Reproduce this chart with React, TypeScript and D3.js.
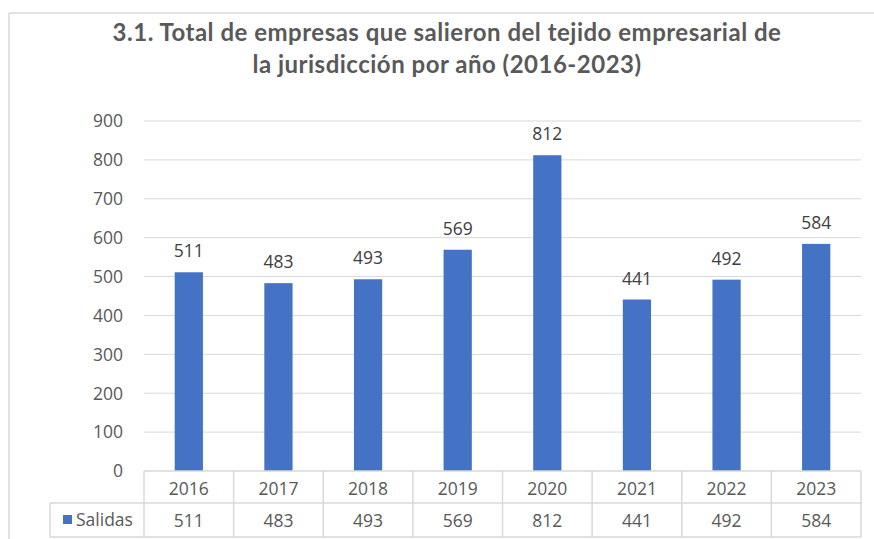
import React from 'react';
import * as d3 from 'd3';

const years = ['2016', '2017', '2018', '2019', '2020', '2021', '2022', '2023'];
const salidas = [511, 483, 493, 569, 812, 441, 492, 584];
const yTicks = [0, 100, 200, 300, 400, 500, 600, 700, 800, 900];
const titleLines = [
  '3.1. Total de empresas que salieron del tejido empresarial de',
  'la jurisdicción por año (2016-2023)',
];
const seriesName = 'Salidas';

const W = 874;
const H = 539;
const grid = '#d9d9d9';
const textCol = '#595959';
const barCol = '#4472c4';
const numFont = "'Open Sans', sans-serif";
const numSize = 17.5;

export default function App() {
  // plot area
  const left = 144;
  const right = 861;
  const x = d3.scaleBand<string>().domain(years).range([left, right]).paddingInner(0).paddingOuter(0);
  const y = d3.scaleLinear().domain([0, 900]).range([471, 121]);
  const barW = x.bandwidth() * 0.315;

  const rowTop = y(0);
  const rowMid = 503;
  const rowBot = 537;
  const legendLeft = 50;

  return (
    <svg width={W} height={H} style={{ position: 'absolute', left: 0, top: 0, background: '#fff' }}>
      {/* chart frame */}
      <line x1={9} x2={W} y1={13} y2={13} stroke={grid} strokeWidth={1.5} />
      <line x1={9} x2={9} y1={13} y2={H} stroke={grid} strokeWidth={1.5} />

      {/* title */}
      {titleLines.map((t, i) => (
        <text key={t} x={447} y={41 + i * 32} textAnchor="middle" fontFamily="Lato, sans-serif"
          fontWeight={700} fontSize={24} letterSpacing={0.5} fill={textCol}>{t}</text>
      ))}

      {/* gridlines + y tick labels */}
      {yTicks.map(t => (
        <g key={t}>
          {t > 0 && <line x1={left} x2={right} y1={y(t)} y2={y(t)} stroke={grid} strokeWidth={1} />}
          <text x={123} y={y(t)} dy="0.36em" textAnchor="end" fontFamily={numFont}
            fontSize={numSize} fill={textCol}>{t}</text>
        </g>
      ))}

      {/* bars */}
      {years.map((yr, i) => {
        const cx = (x(yr) || 0) + x.bandwidth() / 2;
        return (
          <g key={yr}>
            <rect x={cx - barW / 2} y={y(salidas[i])} width={barW} height={y(0) - y(salidas[i])} fill={barCol} />
            <text x={cx} y={y(salidas[i]) - 15} textAnchor="middle" fontFamily={numFont}
              fontSize={numSize} fill="#404040">{salidas[i]}</text>
          </g>
        );
      })}

      {/* data table */}
      <g stroke={grid} strokeWidth={1.5} fill="none">
        <line x1={left} x2={right} y1={rowTop} y2={rowTop} />
        <line x1={legendLeft} x2={right} y1={rowMid} y2={rowMid} />
        <line x1={legendLeft} x2={right} y1={rowBot} y2={rowBot} />
        <line x1={legendLeft} x2={legendLeft} y1={rowMid} y2={rowBot} />
        <line x1={left} x2={left} y1={rowTop} y2={rowBot} />
        {years.map(yr => (
          <line key={yr} x1={(x(yr) || 0) + x.bandwidth()} x2={(x(yr) || 0) + x.bandwidth()} y1={rowTop} y2={rowBot} />
        ))}
      </g>
      {years.map((yr, i) => {
        const cx = (x(yr) || 0) + x.bandwidth() / 2;
        return (
          <g key={'t' + yr} fontFamily={numFont} fontSize={numSize} fill={textCol} textAnchor="middle">
            <text x={cx} y={495}>{yr}</text>
            <text x={cx} y={527}>{salidas[i]}</text>
          </g>
        );
      })}
      <rect x={63} y={515} width={9} height={9} fill={barCol} />
      <text x={76} y={526} fontFamily={numFont} fontSize={numSize} fill={textCol}>{seriesName}</text>
    </svg>
  );
}
